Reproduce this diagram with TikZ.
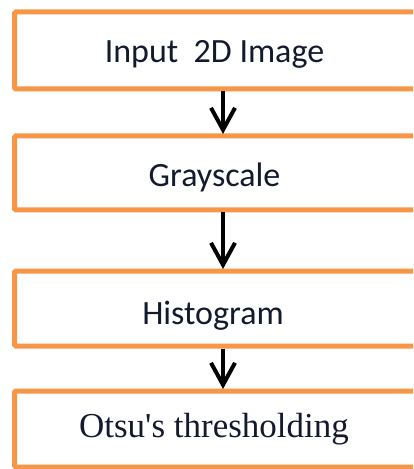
\documentclass[tikz,border=0pt]{standalone}
\usepackage{fontspec}
\setmainfont{Carlito}
\newfontfamily\serifface{Liberation Serif}
\usetikzlibrary{arrows.meta}
\definecolor{boxorange}{HTML}{F79646}
\definecolor{textdark}{HTML}{141A2E}
\tikzset{
  x=1bp, y=-1bp,
  stepbox/.style={draw=boxorange, line width=5bp, fill=white, rounded corners=1.5bp},
  steptext/.style={text=textdark, font=\fontsize{34bp}{40bp}\selectfont, inner sep=0pt, anchor=base},
  flow/.style={line width=4bp, -{Straight Barb[length=22bp, width=24bp, line width=4bp]}}
}
\begin{document}
\begin{tikzpicture}
\useasboundingbox (0,0) rectangle (413,469);
\clip (0,0) rectangle (413,469);
% the four process boxes (they run past the right edge)
\draw[stepbox] (14.5,12) rectangle (440,89);
\draw[stepbox] (14.5,136) rectangle (440,210);
\draw[stepbox] (14.5,271) rectangle (440,346);
\draw[stepbox] (14.5,391) rectangle (440,467);
% labels
\node[steptext] (t1) at (214.5,63) {Input\ \ 2D Image};
\node[steptext] (t2) at (214.5,187) {Grayscale};
\node[steptext] (t3) at (213,324) {Histogram};
\node[steptext, font=\serifface\fontsize{35bp}{40bp}\selectfont] (t4) at (214,437) {Otsu's thresholding};
% connector end points on the box edges
\coordinate (b1) at (223,91.5);
\coordinate (a2) at (223,134);
\coordinate (b2) at (223,212.5);
\coordinate (a3) at (223,269);
\coordinate (b3) at (223,348.5);
\coordinate (a4) at (223,389);
\draw[flow] (b1) -- (a2);
\draw[flow] (b2) -- (a3);
\draw[flow] (b3) -- (a4);
\end{tikzpicture}
\end{document}
